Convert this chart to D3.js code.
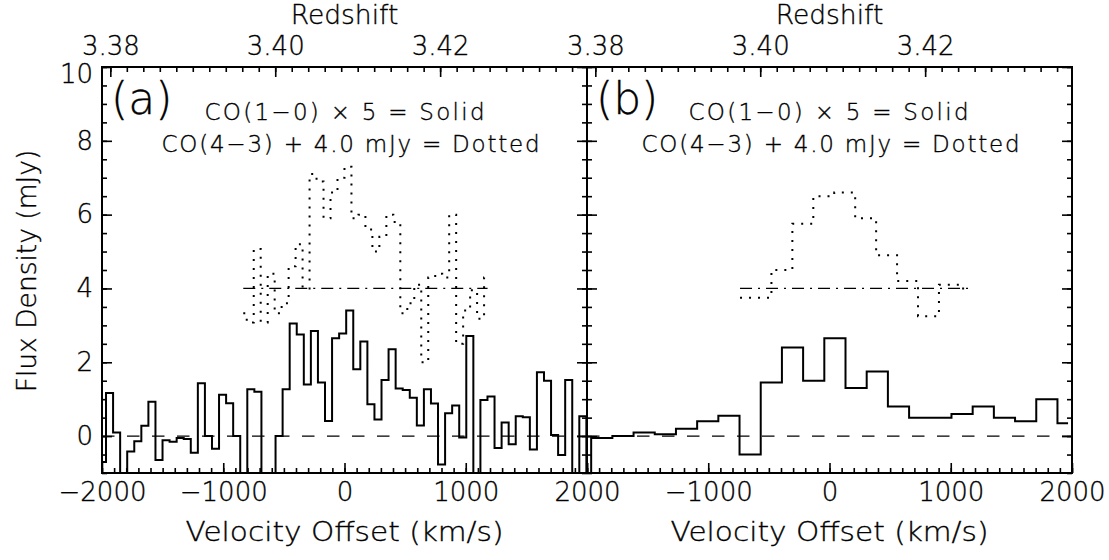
<!DOCTYPE html>
<html><head><meta charset="utf-8">
<script src="https://cdn.jsdelivr.net/npm/d3@7"></script>
<style>
body{margin:0;background:#fff;}
text{font-family:"DejaVu Sans",sans-serif;font-weight:200;fill:#000;stroke:#000;stroke-width:0.35px;}
</style></head><body>
<svg id="chart" width="1109" height="560"></svg>
<script>
// ---------------- data ----------------
const velocityTicks = [-2000, -1000, 0, 1000, 2000];
const panelBVelocityLabels = [-1000, 0, 1000, 2000];
const redshiftTicks = [3.38, 3.40, 3.42];
const fluxTicks = [0, 2, 4, 6, 8, 10];
const zSystemic = 3.4084;
const panelLabels = ["(a)", "(b)"];
const noteSolid = "CO(1\u22120) \u00d7 5 = Solid";
const noteDotted = "CO(4\u22123) + 4.0 mJy = Dotted";

// Spectra drawn IDL-histogram style: values at channel centres (first centre, spacing in km/s)
// Panel (a): CO(1-0) x 5
const aSolidFirst = -1996;
const aSolidStep = 58.26;
const aSolid = [-0.7, 1.17, 0.10, -1.5, -0.42, -0.14, 0.28, 0.93, -0.65, -0.11,
  -0.15, -0.05, -0.08, -0.45, 1.43, 0.0, -0.34, 1.12, 0.89, 0.0,
  -1.5, 1.27, 1.2, -1.5, -1.5, 0.0, 1.27, 3.05, 2.75, 1.4,
  2.85, 1.45, 0.41, 2.65, 2.78, 3.40, 1.81, 2.56, 0.86, 0.45,
  1.52, 2.35, 1.29, 1.25, 1.04, 0.29, 1.27, 0.88, -0.77, 0.62,
  0.83, -0.04, 2.71, -1.5, 0.98, 1.07, -0.32, 0.37, -0.22, 0.54,
  0.51, -0.36, 1.73, 1.50, 0.03, -0.51, 1.52, -1.5, 0.54, -1.5];

// Panel (a): CO(4-3) + 4 mJy
const aDottedFirst = -835;
const aDottedStep = 57.57;
const aDotted = [3.33, 3.08, 5.07, 3.08, 4.4, 3.33, 3.6, 4.6, 5.2, 4.0,
  7.1, 6.9, 5.9, 6.6, 7.0, 7.3, 5.9, 6.0, 5.6, 5.0,
  5.4, 6.0, 5.8, 3.33, 3.6, 4.1, 2.0, 4.3, 4.4, 4.3,
  6.0, 2.5, 3.4, 3.95, 3.18, 4.3];

// Panel (b): binned x3
const bSolidFirst = -2053;
const bSolidStep = 174.8;
const bSolid = [-1.5, -0.05, 0.0, 0.1, 0.05, 0.2, 0.4, 0.55, -0.5, 1.45,
  2.4, 1.5, 2.65, 1.3, 1.75, 0.8, 0.5, 0.5, 0.6, 0.8,
  0.5, 0.4, 1.0, 0.35];

const bDottedFirst = -738;
const bDottedStep = 172.7;
const bDotted = [3.75, 3.75, 4.5, 5.75, 6.5, 6.6, 5.9, 4.9, 4.2, 3.25, 4.1, 4.0];

// ---------------- layout ----------------
const svg = d3.select("#chart");
svg.append("rect").attr("width", 1109).attr("height", 560).attr("fill", "#fff");
const plotTop = 67, plotBottom = 473;
const panels = [
  {x0: 102, x1: 587, solid: [aSolidFirst, aSolidStep, aSolid], dotted: [aDottedFirst, aDottedStep, aDotted],
   label: panelLabels[0], vLabels: velocityTicks, yLabels: true, n1: 0, n2: 6},
  {x0: 587, x1: 1072, solid: [bSolidFirst, bSolidStep, bSolid], dotted: [bDottedFirst, bDottedStep, bDotted],
   label: panelLabels[1], vLabels: panelBVelocityLabels, yLabels: false, n1: -1, n2: 1}
];
const y = d3.scaleLinear().domain([-1, 10]).range([plotBottom, plotTop]);
const cLight = 299792.458;
const zOf = v => zSystemic + v * (1 + zSystemic) / cLight;
const pts = (first, step, vals) => vals.map((v, i) => [first + i * step, v]);
const fmtV = d => d < 0 ? "\u2212" + Math.abs(d) : String(d);

panels.forEach((p, idx) => {
  const x = d3.scaleLinear().domain([-2000, 2000]).range([p.x0, p.x1]);
  const z = d3.scaleLinear().domain([zOf(-2000), zOf(2000)]).range([p.x0, p.x1]);
  const clipId = "clip" + idx;
  svg.append("clipPath").attr("id", clipId).append("rect")
    .attr("x", p.x0).attr("y", plotTop).attr("width", p.x1 - p.x0).attr("height", plotBottom - plotTop);

  const plot = svg.append("g").attr("clip-path", `url(#${clipId})`);
  plot.append("line").attr("x1", p.x0).attr("x2", p.x1).attr("y1", y(0)).attr("y2", y(0))
    .attr("stroke", "#000").attr("stroke-width", 1.3).attr("stroke-dasharray", "12.5 12.5");
  const dPts = pts(...p.dotted);
  plot.append("line").attr("x1", x(dPts[0][0])).attr("x2", x(dPts[dPts.length - 1][0]))
    .attr("y1", y(4)).attr("y2", y(4))
    .attr("stroke", "#000").attr("stroke-width", 1.3).attr("stroke-dasharray", "12 6 2 6");

  const line = d3.line().x(d => x(d[0])).y(d => y(d[1])).curve(d3.curveStep);
  plot.append("path").attr("d", line(pts(...p.solid)))
    .attr("fill", "none").attr("stroke", "#000").attr("stroke-width", 2);
  plot.append("path").attr("d", line(dPts))
    .attr("fill", "none").attr("stroke", "#000").attr("stroke-width", 2).attr("stroke-dasharray", "2 7");

  const minorV = d3.range(-2000, 2001, 100);
  const minorZ = d3.range(3.38, 3.4381, 0.002).filter(t => t >= zOf(-2000) && t <= zOf(2000));
  const minorY = d3.range(-1, 10.01, 0.5);
  const axStyle = sel => { sel.select(".domain").remove(); sel.selectAll("line").attr("stroke-width", 1.6);
    sel.selectAll("text").attr("font-family", null).attr("font-size", null).style("font-size", "26px")
      .attr("fill", "#000"); };
  const gAx = () => svg.append("g");

  gAx().attr("transform", `translate(0,${plotBottom})`)
    .call(d3.axisBottom(x).tickValues(minorV).tickSize(-5).tickFormat("")).call(axStyle);
  gAx().attr("transform", `translate(0,${plotBottom})`)
    .call(d3.axisBottom(x).tickValues(velocityTicks).tickSize(-10).tickPadding(10)
      .tickFormat(d => p.vLabels.includes(d) ? fmtV(d) : ""))
    .call(axStyle);
  gAx().attr("transform", `translate(0,${plotTop})`)
    .call(d3.axisTop(z).tickValues(minorZ).tickSize(-5).tickFormat("")).call(axStyle);
  gAx().attr("transform", `translate(0,${plotTop})`)
    .call(d3.axisTop(z).tickValues(redshiftTicks).tickSize(-10).tickPadding(12).tickFormat(d3.format(".2f")))
    .call(axStyle);
  gAx().attr("transform", `translate(${p.x0},0)`)
    .call(d3.axisLeft(y).tickValues(minorY).tickSize(-5).tickFormat("")).call(axStyle);
  const yl = gAx().attr("transform", `translate(${p.x0},0)`)
    .call(d3.axisLeft(y).tickValues(fluxTicks).tickSize(-10).tickPadding(9)
      .tickFormat(d => p.yLabels ? String(d) : "")).call(axStyle);
  yl.selectAll(".tick").filter(d => d === 10).select("text").attr("y", 7);
  gAx().attr("transform", `translate(${p.x1},0)`)
    .call(d3.axisRight(y).tickValues(minorY).tickSize(-5).tickFormat("")).call(axStyle);
  gAx().attr("transform", `translate(${p.x1},0)`)
    .call(d3.axisRight(y).tickValues(fluxTicks).tickSize(-10).tickFormat("")).call(axStyle);

  svg.append("rect").attr("x", p.x0).attr("y", plotTop).attr("width", p.x1 - p.x0).attr("height", plotBottom - plotTop)
    .attr("fill", "none").attr("stroke", "#000").attr("stroke-width", 2);

  const cx = (p.x0 + p.x1) / 2;
  svg.append("text").attr("x", cx).attr("y", 24).attr("text-anchor", "middle").style("font-size", "26.5px").text("Redshift");
  svg.append("text").attr("x", cx).attr("y", 541).attr("text-anchor", "middle").style("font-size", "26.5px")
    .attr("textLength", 318).attr("lengthAdjust", "spacingAndGlyphs").text("Velocity Offset (km/s)");
  svg.append("text").attr("x", p.x0 + 9).attr("y", 114).style("font-size", "44px").text(p.label);
  svg.append("text").attr("x", cx + p.n1).attr("y", 120).attr("text-anchor", "middle").style("font-size", "23px")
    .attr("textLength", 280).attr("lengthAdjust", "spacing").text(noteSolid);
  svg.append("text").attr("x", cx + p.n2).attr("y", 152).attr("text-anchor", "middle").style("font-size", "23px")
    .attr("textLength", 378).attr("lengthAdjust", "spacing").text(noteDotted);
});

svg.append("text").attr("transform", "translate(36,271) rotate(-90)").attr("text-anchor", "middle")
  .style("font-size", "26.5px").text("Flux Density (mJy)");
</script>
</body></html>
